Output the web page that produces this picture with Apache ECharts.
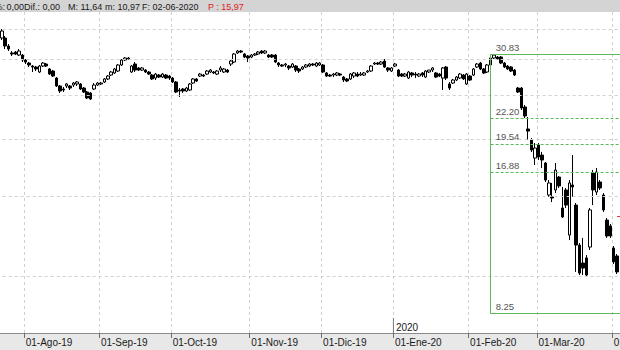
<!DOCTYPE html>
<html>
<head>
<meta charset="utf-8">
<script src="https://cdn.jsdelivr.net/npm/echarts@6/dist/echarts.min.js"></script>
<style>html,body{margin:0;padding:0;background:#fff}#c{width:620px;height:350px}</style>
</head>
<body>
<div id="c"></div>
<script>
// ---- categories (trading days) ----
const firstDay = '2019-07-22', lastDay = '2020-04-03';
const holidays = ['2019-12-25', '2020-01-01'];

// ---- series values (index 0 .. 182) ----
const openP = [null,
33.44,33.44,32.11,30.99,31.14,30.67,30.67,29.91,29.45,29.01,28.86,28.14,29.01,29.30,28.57,28.28,27.29,26.21,25.81,26.21,
26.21,26.34,26.48,26.48,25.94,25.42,25.29,25.81,26.34,26.48,26.75,27.16,27.71,28.00,28.28,29.16,29.91,30.06,28.14,29.30,
28.72,28.42,28.42,28.14,27.71,27.29,27.71,27.43,27.71,27.57,27.29,26.75,25.68,25.81,25.55,25.68,26.61,27.16,27.57,27.71,
27.85,28.14,28.14,27.85,28.42,28.14,28.42,29.30,29.60,30.99,31.30,30.83,30.52,30.36,30.67,30.83,31.30,30.99,30.67,30.67,
30.67,29.45,29.16,29.16,29.01,28.86,29.01,28.57,28.57,28.86,29.01,29.30,29.01,29.16,29.16,28.00,27.71,27.71,27.71,27.85,
27.43,27.16,27.16,27.57,27.85,27.71,27.71,28.14,28.28,29.30,29.45,29.30,29.75,28.72,28.28,29.01,28.42,27.85,27.57,27.29,
28.00,27.85,27.57,28.00,27.43,28.14,28.42,28.00,27.85,27.29,28.86,26.48,26.61,27.02,27.29,27.71,26.48,27.57,27.71,28.86,
29.45,28.57,28.14,29.16,30.21,30.36,30.36,29.45,29.01,28.86,28.42,25.94,25.94,23.56,21.07,19.92,18.18,19.43,18.46,17.73,
15.07,14.92,15.46,16.51,14.11,15.46,12.30,15.86,14.32,11.69,10.67,10.95,11.57,16.85,15.30,16.10,15.07,13.27,12.88,11.51,
11.06,null];
const closeP = [null,
34.65,32.11,31.62,30.83,30.83,31.30,29.91,29.60,29.16,28.86,28.57,29.01,29.45,29.01,27.85,27.57,26.21,25.55,25.68,26.48,
25.94,26.61,26.75,25.81,25.42,24.66,24.53,26.34,26.61,26.61,27.16,27.57,28.14,28.57,29.16,29.91,30.21,30.21,29.01,28.42,
28.42,28.72,28.14,27.85,27.16,27.85,27.43,27.85,27.29,27.29,26.75,25.42,25.55,25.55,25.94,26.48,27.16,26.88,27.85,27.57,
28.28,28.42,28.00,28.28,28.72,28.57,28.14,29.75,30.83,31.30,31.14,30.36,30.21,30.67,30.83,31.14,30.99,31.30,30.36,30.36,
29.60,29.16,29.01,29.30,28.72,29.30,28.42,28.28,28.86,29.16,29.30,29.16,29.45,29.45,28.14,27.57,27.57,27.85,28.00,27.71,
27.02,26.88,27.85,28.00,27.57,27.85,28.00,28.28,29.01,29.45,29.30,29.60,28.86,28.42,28.72,29.30,27.57,27.57,27.85,28.14,
27.71,27.71,27.85,27.71,28.28,28.42,28.72,27.43,27.57,28.72,27.29,25.94,27.02,27.43,27.85,27.16,27.85,27.02,28.57,29.30,
28.57,28.00,29.16,30.21,30.67,30.06,29.45,28.86,28.57,28.28,27.71,25.42,23.44,22.51,20.85,18.94,19.13,18.28,18.00,16.26,
16.02,14.84,17.11,15.78,13.48,14.32,16.02,15.70,11.69,10.14,10.40,10.04,13.97,15.46,16.94,15.62,13.97,12.24,12.24,10.73,
10.20,null];
const lowP = [null,
33.10,31.62,31.30,30.52,30.67,30.52,29.60,29.30,28.86,28.14,28.28,28.00,28.86,28.86,27.71,27.43,26.08,25.29,25.42,25.94,
25.68,26.08,26.21,25.68,25.29,24.53,24.41,25.68,26.21,26.34,26.61,27.02,27.57,27.85,28.14,29.01,29.75,29.91,28.00,28.14,
28.28,28.28,28.00,27.71,27.02,27.02,27.29,27.29,27.16,27.02,26.61,25.29,24.79,25.29,25.42,25.55,26.48,26.75,27.43,27.43,
27.71,28.00,27.85,27.71,28.14,28.00,28.00,29.01,29.45,30.83,30.99,30.21,29.60,30.21,30.52,30.67,30.83,30.83,30.21,30.21,
29.45,28.86,28.86,28.86,28.42,28.72,28.14,28.00,28.42,28.72,28.86,29.01,28.86,29.01,28.00,27.43,27.43,27.43,27.57,27.57,
26.75,26.75,27.02,27.29,27.43,27.57,27.57,28.00,28.14,29.16,29.16,29.16,28.72,28.14,28.14,28.86,27.43,27.43,27.43,27.16,
27.43,27.29,27.43,27.43,27.29,28.00,28.14,27.29,27.43,25.68,27.02,25.68,26.48,26.88,27.16,27.02,26.34,26.88,27.57,28.72,
28.42,27.85,28.00,29.01,30.06,29.91,29.30,28.72,28.42,28.14,27.57,25.29,23.20,22.28,19.92,18.75,17.55,18.00,17.28,16.10,
14.92,14.54,15.22,15.62,13.41,14.11,11.99,14.92,10.20,10.04,10.04,9.99,11.40,14.32,15.07,15.46,13.83,12.12,12.12,10.62,
10.09,null];
const highP = [null,
35.00,33.78,32.44,31.30,31.30,31.62,30.83,30.06,29.60,29.16,29.01,29.16,29.60,29.45,28.72,28.42,27.43,26.34,26.08,26.61,
26.34,26.75,26.88,26.61,26.08,25.55,25.42,26.61,26.75,26.75,27.29,27.71,28.28,28.72,29.30,30.06,30.36,30.36,29.16,29.60,
28.86,28.86,28.57,28.28,27.85,28.00,27.85,28.00,27.85,27.71,27.43,26.88,25.94,25.94,26.08,26.61,27.29,27.29,28.00,27.85,
28.42,28.57,28.28,28.42,29.01,28.72,28.57,29.91,30.99,31.46,31.46,30.99,30.67,30.83,30.99,31.30,31.46,31.46,30.83,30.83,
30.83,29.60,29.30,29.45,29.16,29.45,29.16,28.72,29.01,29.30,29.45,29.45,29.60,29.60,29.30,28.14,27.85,28.00,28.14,28.00,
27.57,27.29,28.00,28.14,28.14,28.14,28.14,28.42,29.16,29.60,29.60,29.75,30.06,28.86,28.86,29.45,28.57,28.00,28.00,28.28,
28.14,28.14,28.00,28.14,28.42,28.42,28.86,28.14,28.00,28.86,29.01,26.75,27.16,27.57,28.00,27.85,28.00,27.71,28.72,29.45,
29.60,28.72,29.30,30.36,30.83,30.52,30.52,29.60,29.16,29.01,28.57,26.08,26.08,23.80,22.39,20.12,19.62,19.62,18.75,17.82,
16.26,16.02,17.73,16.60,15.70,15.62,16.26,18.46,14.47,11.81,12.12,11.11,14.11,17.11,17.28,16.26,15.22,13.41,13.01,11.63,
11.17,null];

// ---- tick labels / levels ----
const tickLabels = ['01-Ago-19','01-Sep-19','01-Oct-19','01-Nov-19','01-Dic-19','01-Ene-20','01-Feb-20','01-Mar-20','01-Abr-20'];
const yearLabel = '2020';
const yearMarkLevel = 7.77;
const gridLevels = [10, 15, 20, 25, 30, 35];
const fibLevels = [30.83, 22.20, 19.54, 16.88, 8.25];
const fibLabels = ['30.83', '22.20', '19.54', '16.88', '8.25'];
const fibDashed = [false, true, true, true, false];
const fibStartDate = '2020-02-11';
const priceMark = 13.55;
// header texts: [text, x, align, colour]
const headerParts = [
  ['%:', 5, 'right', '#1a1a1a'],
  ['0,00', 6.5, 'left', '#1a1a1a'],
  ['Dif.: 0,00', 24, 'left', '#1a1a1a'],
  ['M: 11,64', 68, 'left', '#1a1a1a'],
  ['m: 10,97', 105, 'left', '#1a1a1a'],
  ['F: 02-06-2020', 142, 'left', '#1a1a1a'],
  ['P : 15,97', 208, 'left', '#e02020']
];

// build category list
const dates = [];
(function () {
  const d = new Date(firstDay + 'T12:00:00Z'), end = new Date(lastDay + 'T12:00:00Z');
  while (d <= end) {
    const wd = d.getUTCDay();
    const s = d.toISOString().slice(0, 10);
    if (wd !== 0 && wd !== 6 && holidays.indexOf(s) < 0) dates.push(s);
    d.setUTCDate(d.getUTCDate() + 1);
  }
})();
const labelAt = {};
let k = 0;
for (let i = 1; i < dates.length; i++) {
  if (dates[i].slice(0, 7) !== dates[i - 1].slice(0, 7)) { labelAt[i] = tickLabels[k++]; }
}
const isMonthStart = i => labelAt[i] !== undefined;
const yearIdx = dates.findIndex(s => s.slice(0, 4) === yearLabel);
const fibStart = dates.indexOf(fibStartDate);
const lastIdx = dates.length - 1;

const candleData = dates.map((d, i) => openP[i] == null ? '-' : [openP[i], closeP[i], lowP[i], highP[i]]);

const FONT = '"Liberation Sans", Arial, sans-serif';
const fibLines = fibLevels.map((v, j) => [
  { coord: [fibStart, v],
    lineStyle: { color: '#5cb85a', width: 1, type: fibDashed[j] ? [3, 2] : 'solid' },
    label: { show: true, formatter: fibLabels[j], position: 'insideStartTop', distance: [5, 2],
             color: '#555', fontSize: 9.5, fontFamily: FONT } },
  { coord: [lastIdx, v] }
]);
fibLines.push([
  { coord: [fibStart, fibLevels[0]], lineStyle: { color: '#5cb85a', width: 1, type: 'solid' }, label: { show: false } },
  { coord: [fibStart, fibLevels[fibLevels.length - 1]] }
]);
fibLines.push([
  { coord: [lastIdx - 1, priceMark], lineStyle: { color: '#e83030', width: 1, type: [3, 2] }, label: { show: false } },
  { coord: [lastIdx, priceMark] }
]);

const graphics = [
  { type: 'rect', z: -10, shape: { x: 0, y: 0, width: 620, height: 12 }, style: { fill: '#d4d4d4' } },
  { type: 'rect', z: -10, shape: { x: 0, y: 333, width: 620, height: 17 }, style: { fill: '#e8e8e8' } }
];
headerParts.forEach(h => graphics.push({ type: 'text', z: 10, x: h[1], y: 6.5,
  style: { text: h[0], fill: h[3], font: '9px ' + FONT, textAlign: h[2], textVerticalAlign: 'middle', align: h[2], verticalAlign: 'middle' } }));

const chart = echarts.init(document.getElementById('c'), null, { renderer: 'svg' });
chart.setOption({
  animation: false,
  backgroundColor: '#ffffff',
  grid: { left: -3.35, right: -2.25, top: 12, bottom: 17, containLabel: false, outerBoundsMode: 'none' },
  xAxis: { type: 'category', data: dates, boundaryGap: true, position: 'bottom',
      axisLine: { show: true, lineStyle: { color: '#8a8a8a', width: 1 } },
      axisTick: { show: true, length: 5, interval: isMonthStart, lineStyle: { color: '#6e6e6e' } },
      axisLabel: { show: true, interval: isMonthStart, formatter: (v, i) => labelAt[i] || '',
                   align: 'left', margin: 4, color: '#1a1a1a', fontSize: 10, fontFamily: FONT },
      splitLine: { show: true, interval: isMonthStart, lineStyle: { color: '#d0d0d0', width: 1, type: [3, 3] } } },
  yAxis: { type: 'log', min: 7.48, max: 38.16, show: false },
  graphic: graphics,
  series: [
    { type: 'line', data: [], silent: true, z: 1,
      markLine: { silent: true, symbol: ['none', 'none'], animation: false, label: { show: false },
                  lineStyle: { color: '#d0d0d0', width: 1, type: [3, 3] },
                  data: gridLevels.map(v => ({ yAxis: v })) },
      markPoint: { silent: true, animation: false, symbol: 'rect', symbolSize: [1, 15], symbolOffset: [-1.5, 0],
                   itemStyle: { color: '#7a7a7a' },
                   data: [{ coord: [yearIdx, yearMarkLevel],
                            label: { show: true, formatter: yearLabel, position: 'right', distance: 2, offset: [0, 1.5],
                                     color: '#1a1a1a', fontSize: 10, fontFamily: FONT } }] } },
    { type: 'candlestick', data: candleData, barWidth: 3, z: 3, silent: true,
      itemStyle: { color: '#ffffff', color0: '#000000', borderColor: '#000000', borderColor0: '#000000', borderWidth: 1 },
      markLine: { silent: true, symbol: ['none', 'none'], animation: false, data: fibLines } }
  ]
});
</script>
</body>
</html>
